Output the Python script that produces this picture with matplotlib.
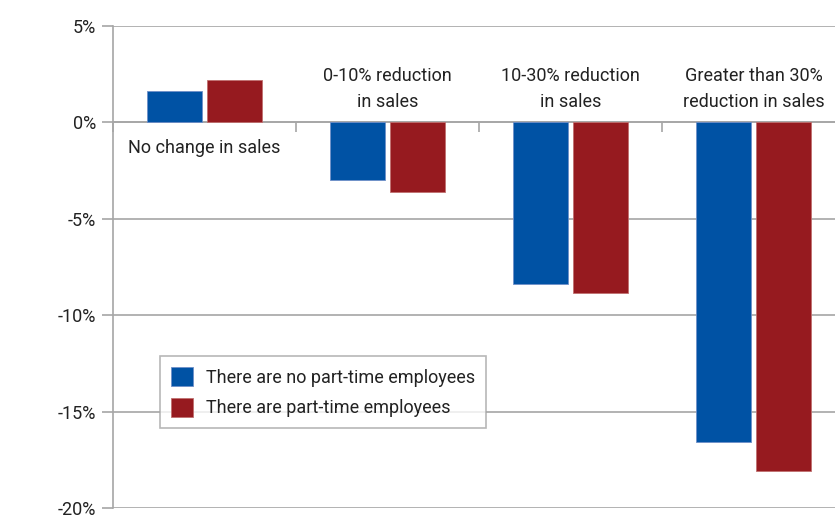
import matplotlib
matplotlib.use("Agg")
import matplotlib.pyplot as plt
import numpy as np

categories = ["No change in sales", "0-10% reduction\nin sales",
              "10-30% reduction\nin sales", "Greater than 30%\nreduction in sales"]
no_part_time = [1.65, -3.0, -8.4, -16.6]
part_time = [2.2, -3.6, -8.85, -18.1]
series_names = ["There are no part-time employees", "There are part-time employees"]
y_ticks = [5, 0, -5, -10, -15, -20]
y_tick_labels = ["5%", "0%", "-5%", "-10%", "-15%", "-20%"]

plt.rcParams['font.family'] = ['Roboto', 'DejaVu Sans']

W, H = 835, 515
fig = plt.figure(figsize=(W / 100, H / 100), dpi=100)
ax = fig.add_axes([113 / W, 7 / H, 732 / W, 482 / H])

x = np.arange(len(categories))
bw = 0.30
off = 0.166
blue = "#0052A4"
red = "#961A1F"
ax.bar(x - off, no_part_time, bw, color=blue, edgecolor="#6f8fc8", linewidth=0.6,
       label=series_names[0], zorder=3)
ax.bar(x + off, part_time, bw, color=red, edgecolor="#c07070", linewidth=0.6,
       label=series_names[1], zorder=3)

ax.set_xlim(-0.5, 3.5)
ax.set_ylim(-20, 5)
ax.set_yticks(y_ticks)
ax.set_yticklabels(y_tick_labels)
grid_c = "#a6a6a6"
ax.yaxis.grid(True, color=grid_c, linewidth=1.2, zorder=0)
ax.set_axisbelow(True)
for s in ["top", "right"]:
    ax.spines[s].set_visible(False)
ax.spines["left"].set_color(grid_c)
ax.spines["left"].set_linewidth(1.2)
ax.spines["bottom"].set_position(("data", 0))
ax.spines["bottom"].set_color(grid_c)
ax.spines["bottom"].set_linewidth(1.2)
ax.set_xticks(np.arange(-0.5, 3.6, 1.0))
ax.set_xticklabels([])
ax.tick_params(axis="x", direction="out", length=7, color=grid_c, width=1.2)
ax.tick_params(axis="y", direction="out", length=8, color=grid_c, width=1.2,
               labelsize=13, labelcolor="#222222", pad=4)

for i, c in enumerate(categories):
    if i == 0:
        ax.text(i, -1.35, c, ha="center", va="center", fontsize=13, color="#222222",
                linespacing=1.6)
    else:
        ax.text(i, 1.72, c, ha="center", va="center", fontsize=13, color="#222222",
                linespacing=1.6)

leg = ax.legend(loc="lower left", bbox_to_anchor=(0.064, 0.166), fontsize=13,
                frameon=True, fancybox=False, handlelength=1.25, handleheight=1.25,
                borderpad=0.6, labelspacing=0.6, handletextpad=0.7, borderaxespad=0)
leg.get_frame().set_edgecolor(grid_c)
leg.get_frame().set_linewidth(1.2)
for t in leg.get_texts():
    t.set_color("#222222")

fig.savefig("out.png", dpi=100)
